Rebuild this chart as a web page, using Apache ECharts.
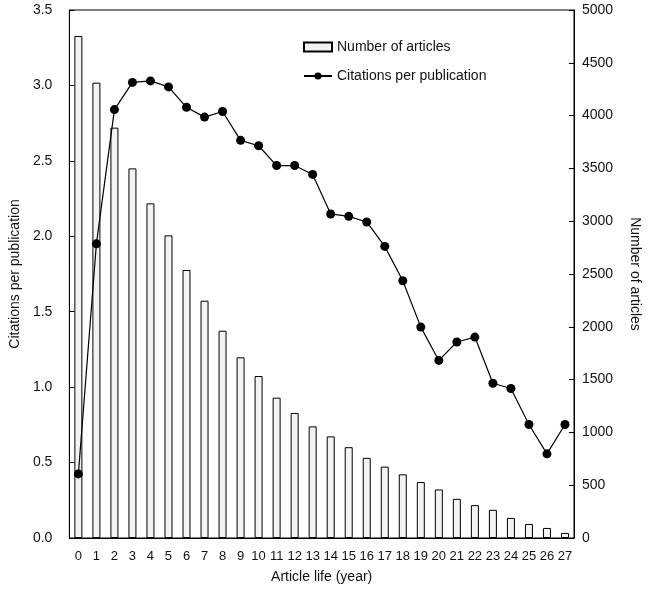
<!DOCTYPE html>
<html><head><meta charset="utf-8">
<script src="https://cdn.jsdelivr.net/npm/echarts@6/dist/echarts.min.js"></script>
<style>html,body{margin:0;padding:0;background:#fff}#c{width:650px;height:591px}</style>
</head><body><div id="c"></div>
<script>
var years = ['0','1','2','3','4','5','6','7','8','9','10','11','12','13','14','15','16','17','18','19','20','21','22','23','24','25','26','27'];
var numberOfArticles = [4754, 4312, 3886, 3500, 3169, 2866, 2538, 2247, 1963, 1711, 1534, 1329, 1184, 1057, 962, 860, 759, 676, 603, 530, 460, 371, 311, 267, 190, 133, 95, 48];
var citationsPerPublication = [0.425, 1.95, 2.84, 3.02, 3.03, 2.99, 2.855, 2.79, 2.827, 2.636, 2.60, 2.469, 2.469, 2.41, 2.148, 2.132, 2.095, 1.933, 1.705, 1.398, 1.177, 1.299, 1.332, 1.026, 0.991, 0.752, 0.558, 0.752];

var chart = echarts.init(document.getElementById('c'), null, {renderer: 'canvas'});
var font = 'Liberation Sans, Arial, Helvetica, sans-serif';
chart.setOption({
  animation: false,
  textStyle: {fontFamily: font, color: '#111'},
  grid: {left: 65, right: 73, top: 10, bottom: 53, show: true, borderColor: '#000', borderWidth: 1, backgroundColor: 'transparent'},
  legend: {
    orient: 'vertical', left: 303, top: 40, itemGap: 15, padding: 0,
    itemWidth: 28, itemHeight: 9,
    textStyle: {fontFamily: font, fontSize: 14, color: '#111'},
    data: [
      {name: 'Number of articles', icon: 'rect'},
      {name: 'Citations per publication'}
    ]
  },
  xAxis: {
    type: 'category', data: years,
    axisLine: {lineStyle: {color: '#000'}},
    axisTick: {show: false},
    axisLabel: {interval: 0, fontSize: 13, color: '#111', margin: 12, fontFamily: font},
    name: 'Article life (year)', nameLocation: 'middle', nameGap: 32,
    nameTextStyle: {fontSize: 14, color: '#111', fontFamily: font}
  },
  yAxis: [
    {
      type: 'value', min: 0, max: 3.5, interval: 0.5, position: 'left',
      axisLine: {show: true, lineStyle: {color: '#000'}},
      axisTick: {show: true, inside: true, length: 5, lineStyle: {color: '#000'}},
      splitLine: {show: false},
      axisLabel: {fontSize: 14, color: '#111', margin: 17, fontFamily: font, formatter: function (v) { return v.toFixed(1); }},
      name: 'Citations per publication', nameLocation: 'middle', nameGap: 46, nameRotate: 90,
      nameTextStyle: {fontSize: 14, color: '#111', fontFamily: font}
    },
    {
      type: 'value', min: 0, max: 5000, interval: 500, position: 'right',
      axisLine: {show: true, lineStyle: {color: '#000'}},
      axisTick: {show: true, inside: true, length: 5, lineStyle: {color: '#000'}},
      splitLine: {show: false},
      axisLabel: {fontSize: 14, color: '#111', margin: 8, fontFamily: font, formatter: function (v) { return String(v); }},
      name: 'Number of articles', nameLocation: 'middle', nameGap: 54, nameRotate: -90,
      nameTextStyle: {fontSize: 14, color: '#111', fontFamily: font}
    }
  ],
  series: [
    {
      name: 'Number of articles', type: 'bar', yAxisIndex: 1, data: numberOfArticles,
      barWidth: 8,
      itemStyle: {color: '#f3f3f3', borderColor: '#000', borderWidth: 1}
    },
    {
      name: 'Citations per publication', type: 'line', yAxisIndex: 0, data: citationsPerPublication,
      symbol: 'circle', symbolSize: 9,
      lineStyle: {color: '#000', width: 1.2},
      itemStyle: {color: '#000'}
    }
  ]
});
</script>
</body></html>
